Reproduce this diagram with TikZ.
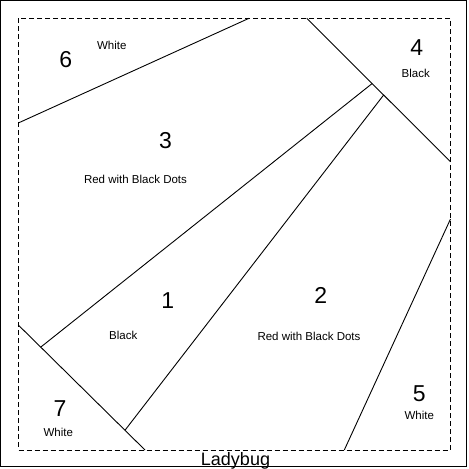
\documentclass[tikz,border=0pt]{standalone}
\usepackage{fontspec}
\setmainfont{Liberation Sans}
\usetikzlibrary{calc}
\begin{document}
\begin{tikzpicture}[x=1pt,y=-1pt,
  seam/.style={line width=0.9pt,black},
  frame/.style={line width=0.9pt,black},
  cutline/.style={line width=0.8pt,black,dash pattern=on 5pt off 3pt},
  num/.style={inner sep=0pt,font=\fontsize{23}{23}\selectfont},
  lbl/.style={inner sep=0pt,font=\fontsize{11.5}{11.5}\selectfont},
  title/.style={inner sep=0pt,font=\fontsize{18}{18}\selectfont}]
\useasboundingbox (0,0) rectangle (469,469);
\draw[frame] (0.6,0.6) rectangle (466.5,466.8);
\draw[cutline] (18.3,18.3) rectangle (450.5,450);
% end points
\coordinate (a6) at (18.3,123);
\coordinate (b6) at (249,18.3);
\coordinate (a4) at (306.7,18.3);
\coordinate (b4) at (450.5,161.7);
\coordinate (a7) at (18.3,325);
\coordinate (b7) at (145,450);
\coordinate (a5) at (344.3,450);
\coordinate (b5) at (450.5,219);
\coordinate (j1) at ($(a4)!0.455!(b4)$);
\coordinate (j2) at ($(a4)!0.535!(b4)$);
\coordinate (p1) at ($(a7)!0.177!(b7)$);
\coordinate (p2) at ($(a7)!0.842!(b7)$);
\draw[seam] (a6) -- (b6);
\draw[seam] (a4) -- (b4);
\draw[seam] (a7) -- (b7);
\draw[seam] (a5) -- (b5);
\draw[seam] (j1) -- (p1);
\draw[seam] (j2) -- (p2);
% labels
\node[num] (n6) at (65.7,60) {6};
\node[lbl] (t6) at (111.7,45) {White};
\node[num] (n4) at (416.7,47.7) {4};
\node[lbl] (t4) at (415.7,73) {Black};
\node[num] (n3) at (165.5,141) {3};
\node[lbl] (t3) at (135.5,179) {Red with Black Dots};
\node[num] (n1) at (167.7,301) {1};
\node[lbl] (t1) at (123.3,335.5) {Black};
\node[num] (n2) at (320.7,295) {2};
\node[lbl] (t2) at (309,336) {Red with Black Dots};
\node[num] (n7) at (60,408.3) {7};
\node[lbl] (t7) at (58.3,432.5) {White};
\node[num] (n5) at (419.3,393.3) {5};
\node[lbl] (t5) at (419.3,415) {White};
\node[title] (ttl) at (235.5,460.5) {Ladybug};
\end{tikzpicture}
\end{document}
